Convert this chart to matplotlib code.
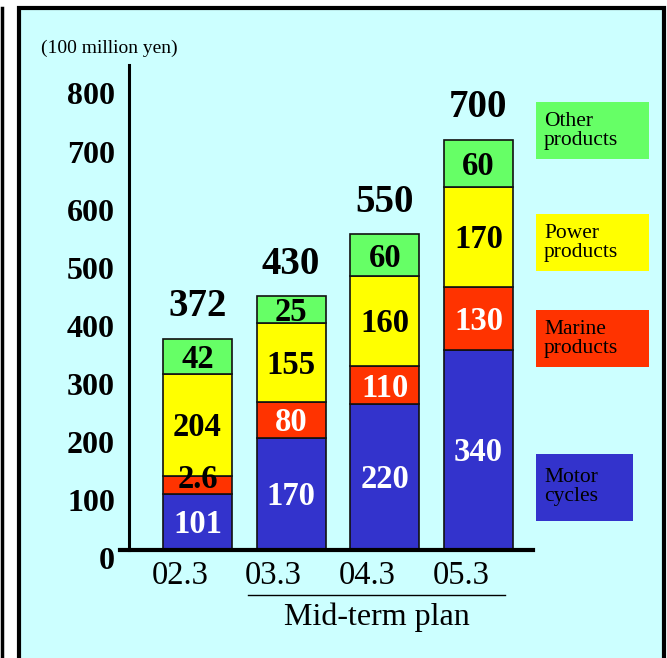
import matplotlib
matplotlib.use("Agg")
import matplotlib.pyplot as plt
import numpy as np
from matplotlib.patches import Rectangle

plt.rcParams['font.family'] = ['Liberation Serif', 'DejaVu Serif']

# data
categories = ['02.3', '03.3', '04.3', '05.3']
series = ['Motor\ncycles', 'Marine\nproducts', 'Power\nproducts', 'Other\nproducts']
# segment heights as drawn in the picture (100 million yen)
motor = [96, 193, 251, 345]
marine = [31, 62, 66, 108]
power = [177, 137, 155, 173]
other = [60, 45, 72, 81]
# labels printed on the segments
motor_lbl = ['101', '170', '220', '340']
marine_lbl = ['2.6', '80', '110', '130']
power_lbl = ['204', '155', '160', '170']
other_lbl = ['42', '25', '60', '60']
totals_lbl = ['372', '430', '550', '700']
yticks = [0, 100, 200, 300, 400, 500, 600, 700, 800]

colors = ['#3333CC', '#FF3300', '#FFFF00', '#66FF66']
label_colors = ['white', 'white', 'black', 'black']

W, H = 667, 658
fig = plt.figure(figsize=(W / 100, H / 100), dpi=100)
fig.patch.set_facecolor('white')

def fx(px):
    return px / W

def fy(py):
    return (H - py) / H

# panel background and frame
fig.add_artist(Rectangle((fx(19), fy(H + 10)), fx(664) - fx(19), fy(8) - fy(H + 10),
                         transform=fig.transFigure, facecolor='#CCFFFF',
                         edgecolor='black', linewidth=3, zorder=0))
fig.add_artist(plt.Line2D([fx(2), fx(2)], [fy(8), fy(H + 5)], transform=fig.transFigure,
                          color='black', linewidth=2.5))

ax = fig.add_axes([fx(120), fy(550), fx(533) - fx(120), fy(65) - fy(550)])
ax.set_facecolor('none')
ax.set_xlim(-0.827, 3.582)
ax.set_ylim(0, 836)

x = np.arange(len(categories))
stack = [motor, marine, power, other]
labels = [motor_lbl, marine_lbl, power_lbl, other_lbl]
bottom = np.zeros(len(categories))
for k, vals in enumerate(stack):
    vals = np.array(vals, dtype=float)
    ax.bar(x, vals, width=0.737, bottom=bottom, color=colors[k],
           edgecolor='#111111', linewidth=1.2, zorder=2)
    for i in range(len(categories)):
        yc = bottom[i] + vals[i] / 2
        col = label_colors[k]
        if k == 1 and labels[k][i] == '2.6':
            # tiny segment: label sits on its top edge in black
            yc = bottom[i] + vals[i]
            col = 'black'
        ax.annotate(labels[k][i], xy=(x[i], yc), xytext=(0, -2),
                    textcoords='offset points', ha='center', va='center',
                    fontsize=23.5, fontweight='bold', color=col, zorder=3)
    bottom = bottom + vals

for i in range(len(categories)):
    ax.annotate(totals_lbl[i], xy=(x[i], bottom[i]), xytext=(0, 23),
                textcoords='offset points', ha='center', va='center',
                fontsize=28, fontweight='bold')

# axes lines
for s in ['top', 'right']:
    ax.spines[s].set_visible(False)
ax.spines['bottom'].set_linewidth(3)
ax.spines['left'].set_linewidth(2.2)
ax.spines['left'].set_position(('data', -0.73))
ax.set_xticks([])
ax.set_yticks([])

for v in yticks:
    ax.annotate(str(v), xy=(-0.012, v), xycoords=ax.get_yaxis_transform(),
                xytext=(0, -8), textcoords='offset points', ha='right', va='center',
                fontsize=23, fontweight='bold')

for i, c in enumerate(categories):
    ax.annotate(c, xy=(x[i], 0), xytext=(-12.6, -18.5), textcoords='offset points',
                ha='center', va='center', fontsize=23.5)

# mid-term plan bracket
fig.add_artist(plt.Line2D([fx(248), fx(505)], [fy(595), fy(595)], transform=fig.transFigure,
                          color='black', linewidth=1))
fig.text(fx(377), fy(617), 'Mid-term plan', ha='center', va='center', fontsize=23)

fig.text(fx(41), fy(48), '(100 million yen)', ha='left', va='center', fontsize=14)

# legend boxes
boxes = [(454, 521, 633), (310, 367, 649), (214, 271, 649), (102, 159, 649)]
for k, (top, bot, right) in enumerate(boxes):
    fig.add_artist(Rectangle((fx(536), fy(bot)), fx(right) - fx(536), fy(top) - fy(bot),
                             transform=fig.transFigure, facecolor=colors[k],
                             edgecolor='none'))
    fig.text(fx(544), fy((top + bot) / 2), series[k], ha='left', va='center',
             fontsize=15.5, linespacing=1.0)

fig.savefig('out.png', dpi=100)
